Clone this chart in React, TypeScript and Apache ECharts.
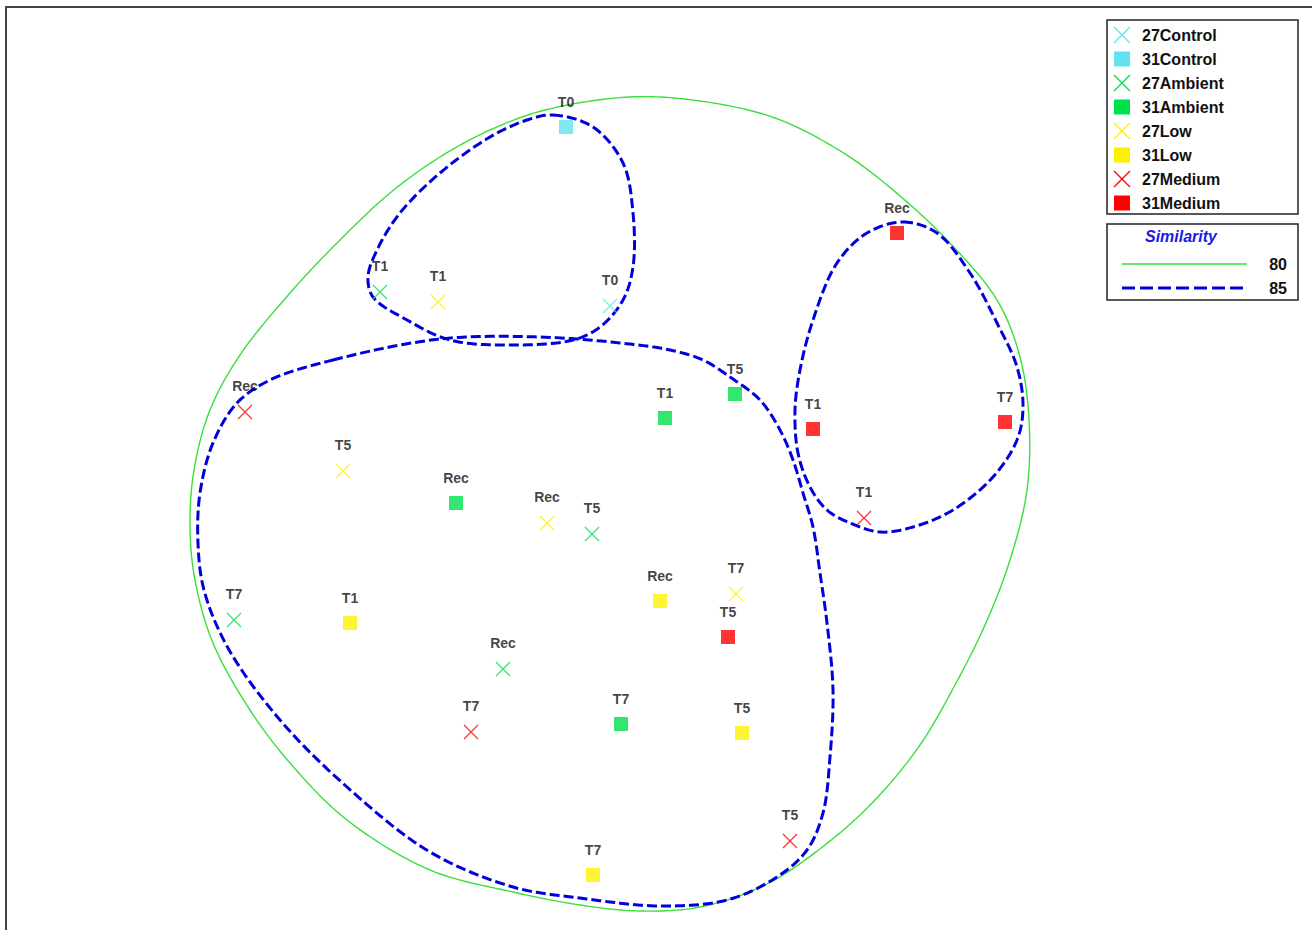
import React, { useEffect, useRef } from 'react';
import * as echarts from 'echarts';

// nMDS ordination: [sample label, dim 1, dim 2]
type Pt = [string, number, number];

const control27: Pt[] = [['T0', -0.30, 1.94]];
const control31: Pt[] = [['T0', -0.74, 3.73]];
const ambient27: Pt[] = [['T1', -2.60, 2.08], ['T5', -0.48, -0.34], ['T7', -4.06, -1.20], ['Rec', -1.37, -1.69]];
const ambient31: Pt[] = [['T1', 0.25, 0.82], ['T5', 0.95, 1.06], ['Rec', -1.84, -0.03], ['T7', -0.19, -2.24]];
const low27: Pt[] = [['T1', -2.02, 1.98], ['T5', -2.97, 0.29], ['Rec', -0.93, -0.23], ['T7', 0.96, -0.94]];
const low31: Pt[] = [['T1', -2.90, -1.23], ['Rec', 0.20, -1.01], ['T5', 1.02, -2.33], ['T7', -0.47, -3.75]];
const medium27: Pt[] = [['Rec', -3.95, 0.88], ['T1', 2.24, -0.18], ['T7', -1.69, -2.32], ['T5', 1.50, -3.41]];
const medium31: Pt[] = [['Rec', 2.57, 2.67], ['T1', 1.73, 0.71], ['T7', 3.65, 0.78], ['T5', 0.88, -1.37]];

// Similarity contours (cluster envelopes) in ordination space
const sim80: [number, number][] = [
  [-0.10, 4.03], [0.60, 3.99], [1.35, 3.82], [2.02, 3.48], [2.53, 3.10], [3.07, 2.60],
  [3.57, 2.00], [3.80, 1.43], [3.89, 0.80], [3.87, 0.10], [3.70, -0.60], [3.45, -1.25],
  [3.15, -1.85], [2.80, -2.45], [2.35, -3.00], [1.85, -3.45], [1.25, -3.85], [0.60, -4.07],
  [0.00, -4.11], [-0.60, -4.05], [-1.27, -3.92], [-2.10, -3.70], [-2.93, -3.20], [-3.50, -2.63],
  [-3.90, -2.10], [-4.27, -1.43], [-4.45, -0.80], [-4.50, -0.27], [-4.46, 0.30], [-4.30, 0.90],
  [-4.00, 1.45], [-3.50, 2.07], [-3.00, 2.60], [-2.50, 3.07], [-2.00, 3.43], [-1.50, 3.70],
  [-0.95, 3.90],
];
const sim85Control: [number, number][] = [
  [-0.87, 3.85], [-0.47, 3.73], [-0.17, 3.37], [-0.07, 2.87], [-0.07, 2.33], [-0.17, 2.00],
  [-0.40, 1.73], [-0.67, 1.60], [-1.33, 1.55], [-1.90, 1.60], [-2.33, 1.80], [-2.67, 2.03],
  [-2.72, 2.23], [-2.63, 2.50], [-2.40, 2.87], [-2.00, 3.27], [-1.50, 3.63], [-1.13, 3.80],
];
const sim85Main: [number, number][] = [
  [-3.07, 1.40], [-2.00, 1.61], [-1.00, 1.63], [-0.20, 1.57], [0.30, 1.50], [0.63, 1.40],
  [0.90, 1.23], [1.20, 1.00], [1.40, 0.70], [1.53, 0.40], [1.63, 0.07], [1.73, -0.27],
  [1.80, -0.73], [1.87, -1.23], [1.93, -1.90], [1.90, -2.57], [1.83, -3.13], [1.67, -3.50],
  [1.37, -3.77], [0.87, -4.00], [0.20, -4.06], [-0.60, -3.98], [-1.27, -3.87], [-2.10, -3.52],
  [-2.93, -2.87], [-3.60, -2.20], [-4.12, -1.48], [-4.36, -0.90], [-4.42, -0.43], [-4.40, 0.07],
  [-4.27, 0.57], [-4.03, 0.97], [-3.70, 1.20],
];
const sim85Medium: [number, number][] = [
  [2.63, 2.78], [2.97, 2.67], [3.30, 2.27], [3.57, 1.77], [3.77, 1.33], [3.83, 0.93],
  [3.77, 0.60], [3.53, 0.23], [3.13, -0.10], [2.73, -0.27], [2.40, -0.32], [2.10, -0.23],
  [1.87, -0.10], [1.70, 0.13], [1.58, 0.47], [1.55, 0.90], [1.60, 1.30], [1.73, 1.80],
  [1.97, 2.37], [2.27, 2.67],
];

const similarityLevels = ['80', '85'];

const CYAN = '#5FE3F0';
const GREEN = '#00E04C';
const YELLOW = '#FFF000';
const RED = '#FF0000';
const CONTOUR_GREEN = '#3ADF3A';
const CONTOUR_BLUE = '#0000DD';
const FONT = '"Liberation Sans", Arial, Helvetica, sans-serif';

const CROSS = 'path://M0,0L10,10M10,0L0,10';

const groups: { name: string; color: string; cross: boolean; points: Pt[] }[] = [
  { name: '27Control', color: CYAN, cross: true, points: control27 },
  { name: '31Control', color: CYAN, cross: false, points: control31 },
  { name: '27Ambient', color: GREEN, cross: true, points: ambient27 },
  { name: '31Ambient', color: GREEN, cross: false, points: ambient31 },
  { name: '27Low', color: YELLOW, cross: true, points: low27 },
  { name: '31Low', color: YELLOW, cross: false, points: low31 },
  { name: '27Medium', color: RED, cross: true, points: medium27 },
  { name: '31Medium', color: RED, cross: false, points: medium31 },
];

const contours = [
  { name: '80% similarity', pts: sim80, color: CONTOUR_GREEN, width: 1.4, dash: null as number[] | null },
  { name: '85% Control', pts: sim85Control, color: CONTOUR_BLUE, width: 3, dash: [10, 4] },
  { name: '85% Main', pts: sim85Main, color: CONTOUR_BLUE, width: 3, dash: [10, 4] },
  { name: '85% Medium', pts: sim85Medium, color: CONTOUR_BLUE, width: 3, dash: [10, 4] },
];

// Closed centripetal Catmull-Rom spline through screen-space points
function closedSpline(pts: number[][], steps = 16): number[][] {
  const n = pts.length;
  const out: number[][] = [];
  const knot = (a: number[], b: number[]) => Math.max(Math.sqrt(Math.hypot(b[0] - a[0], b[1] - a[1])), 1e-4);
  const lerp = (a: number[], b: number[], ta: number, tb: number, t: number) => {
    const w = (t - ta) / (tb - ta);
    return [a[0] + (b[0] - a[0]) * w, a[1] + (b[1] - a[1]) * w];
  };
  for (let i = 0; i < n; i++) {
    const p0 = pts[(i - 1 + n) % n];
    const p1 = pts[i];
    const p2 = pts[(i + 1) % n];
    const p3 = pts[(i + 2) % n];
    const t0 = 0;
    const t1 = t0 + knot(p0, p1);
    const t2 = t1 + knot(p1, p2);
    const t3 = t2 + knot(p2, p3);
    for (let s = 0; s < steps; s++) {
      const t = t1 + ((t2 - t1) * s) / steps;
      const a1 = lerp(p0, p1, t0, t1, t);
      const a2 = lerp(p1, p2, t1, t2, t);
      const a3 = lerp(p2, p3, t2, t3, t);
      const b1 = lerp(a1, a2, t0, t2, t);
      const b2 = lerp(a2, a3, t1, t3, t);
      out.push(lerp(b1, b2, t1, t2, t));
    }
  }
  return out;
}

function buildLegend(): any[] {
  const els: any[] = [];
  // outer frame of the plot
  els.push({
    type: 'rect', silent: true, z: 0,
    shape: { x: 6, y: 7, width: 1400, height: 1000 },
    style: { fill: 'none', stroke: '#444', lineWidth: 2 },
  });
  // group legend box
  els.push({
    type: 'rect', silent: true, z: 10,
    shape: { x: 1107, y: 20, width: 191, height: 194 },
    style: { fill: '#fff', stroke: '#222', lineWidth: 1.5 },
  });
  groups.forEach((g, i) => {
    const cy = 35 + 24 * i;
    const cx = 1122;
    if (g.cross) {
      els.push({ type: 'line', silent: true, z: 11, shape: { x1: cx - 8, y1: cy - 8, x2: cx + 8, y2: cy + 8 }, style: { stroke: g.color, lineWidth: 1.3 } });
      els.push({ type: 'line', silent: true, z: 11, shape: { x1: cx + 8, y1: cy - 8, x2: cx - 8, y2: cy + 8 }, style: { stroke: g.color, lineWidth: 1.3 } });
    } else {
      els.push({ type: 'rect', silent: true, z: 11, shape: { x: cx - 8, y: cy - 7.5, width: 16, height: 15 }, style: { fill: g.color } });
    }
    els.push({
      type: 'text', silent: true, z: 11, x: 1142, y: cy,
      style: { text: g.name, fill: '#111', font: `bold 16px ${FONT}`, textVerticalAlign: 'middle', verticalAlign: 'middle' },
    });
  });
  // similarity legend box
  els.push({
    type: 'rect', silent: true, z: 10,
    shape: { x: 1107, y: 224, width: 191, height: 76 },
    style: { fill: '#fff', stroke: '#222', lineWidth: 1.5 },
  });
  els.push({
    type: 'text', silent: true, z: 11, x: 1181, y: 236,
    style: { text: 'Similarity', fill: '#1A1AE6', font: `italic bold 16px ${FONT}`, textAlign: 'center', align: 'center', textVerticalAlign: 'middle', verticalAlign: 'middle' },
  });
  const rows = [
    { y: 264, color: CONTOUR_GREEN, width: 1.4, dash: null as number[] | null },
    { y: 288, color: CONTOUR_BLUE, width: 3, dash: [13, 5] },
  ];
  rows.forEach((r, i) => {
    els.push({
      type: 'line', silent: true, z: 11,
      shape: { x1: 1122, y1: r.y, x2: 1247, y2: r.y },
      style: { stroke: r.color, lineWidth: r.width, lineDash: r.dash || undefined },
    });
    els.push({
      type: 'text', silent: true, z: 11, x: 1287, y: r.y,
      style: { text: similarityLevels[i], fill: '#111', font: `bold 16px ${FONT}`, textAlign: 'right', align: 'right', textVerticalAlign: 'middle', verticalAlign: 'middle' },
    });
  });
  return els;
}

export default function App() {
  const ref = useRef<HTMLDivElement>(null);

  useEffect(() => {
    if (!ref.current) return;
    document.body.style.margin = '0';
    const chart = echarts.init(ref.current, undefined, { renderer: 'svg' });

    const contourSeries = contours.map((c) => ({
      type: 'custom',
      name: c.name,
      z: 1,
      silent: true,
      clip: false,
      data: c.pts,
      encode: { x: 0, y: 1 },
      renderItem: (params: any, api: any) => {
        if (params.dataIndex !== 0) return null;
        const points = closedSpline(c.pts.map((p) => api.coord(p)));
        return {
          type: 'polygon',
          shape: { points },
          style: {
            fill: 'none',
            stroke: c.color,
            lineWidth: c.width,
            lineDash: c.dash || undefined,
          },
        };
      },
    }));

    const scatterSeries = groups.map((g) => ({
      type: 'scatter',
      name: g.name,
      z: 3,
      symbol: g.cross ? CROSS : 'rect',
      symbolSize: 14,
      itemStyle: g.cross
        ? { color: g.color, borderColor: g.color, borderWidth: 1.3 }
        : { color: g.color, borderWidth: 0 },
      label: {
        show: true,
        position: 'top',
        distance: 11,
        formatter: '{b}',
        color: '#111',
        fontWeight: 'bold',
        fontSize: 14,
        fontFamily: FONT,
      },
      emphasis: { disabled: true },
      data: g.points.map((p) => ({ name: p[0], value: [p[1], p[2]] })),
    }));

    chart.setOption({
      animation: false,
      backgroundColor: '#ffffff',
      grid: { left: 0, right: 0, top: 0, bottom: 0, containLabel: false },
      xAxis: { type: 'value', min: -6.4, max: 6.72, show: false },
      yAxis: { type: 'value', min: -4.3, max: 5.0, show: false },
      tooltip: { show: false },
      series: [...contourSeries, ...scatterSeries],
      graphic: buildLegend(),
    });

    return () => chart.dispose();
  }, []);

  return (
    <div
      ref={ref}
      style={{ width: 1312, height: 930, background: '#fff', overflow: 'hidden' }}
    />
  );
}
